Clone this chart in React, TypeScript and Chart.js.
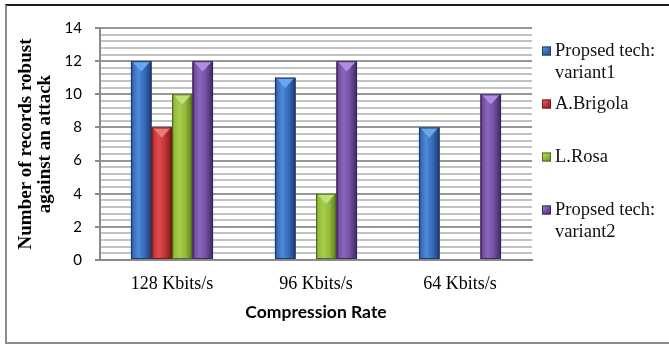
import React, { useEffect, useRef } from 'react';
import { Chart, registerables } from 'chart.js';

Chart.register(...registerables);

// Compression rates on the category axis
const categories = ['128 Kbits/s', '96 Kbits/s', '64 Kbits/s'];

// Number of records robust against an attack, per technique
const variant1 = [12, 11, 8];
const brigola = [8, null, null];
const rosa = [10, 4, null];
const variant2 = [12, 12, 10];

// Legend entries (multi-line where the label wraps)
const seriesNames = [
  ['Propsed tech:', 'variant1'],
  ['A.Brigola'],
  ['L.Rosa'],
  ['Propsed tech:', 'variant2'],
];

// Value axis: labelled every 2, fine grid every 0.4
const yMax = 14;
const yMajorStep = 2;
const yMinorStep = 0.4;

const yTitle = ['Number of records robust', 'against an attack'];
const xTitle = 'Compression Rate';

type Pal = { base: string; light: string; hi: string; dark: string; edge: string };
const palettes: Pal[] = [
  { base: '#3A6CBB', light: '#6AA6EC', hi: '#4E8CD6', dark: '#24498A', edge: '#1C3766' },
  { base: '#C43536', light: '#F07878', hi: '#DC4C4C', dark: '#8C2122', edge: '#6A1718' },
  { base: '#93BC3A', light: '#C2E07A', hi: '#A8CC4E', dark: '#678A22', edge: '#4E6A18' },
  { base: '#7450A3', light: '#AE8EDD', hi: '#8A66BC', dark: '#4E3276', edge: '#3A2459' },
];

const isMajor = (v: number) => Math.abs(v / yMajorStep - Math.round(v / yMajorStep)) < 1e-6;

// Fine horizontal grid between the labelled gridlines
const minorGridPlugin = {
  id: 'minorGrid',
  beforeDatasetsDraw(chart: any) {
    const ctx: CanvasRenderingContext2D = chart.ctx;
    const area = chart.chartArea;
    const yScale = chart.scales.y;
    const n = Math.round(yMax / yMinorStep);
    ctx.save();
    ctx.strokeStyle = '#c2c2c2';
    ctx.lineWidth = 2;
    for (let k = 1; k < n; k++) {
      const v = k * yMinorStep;
      if (isMajor(v)) continue;
      const py = Math.round(yScale.getPixelForValue(v));
      ctx.beginPath();
      ctx.moveTo(area.left + 1, py);
      ctx.lineTo(area.right, py);
      ctx.stroke();
    }
    ctx.restore();
  },
};

// Bevelled look: horizontal shading, light pyramid cap, dark outline
const bevelPlugin = {
  id: 'bevel',
  afterDatasetsDraw(chart: any) {
    const ctx: CanvasRenderingContext2D = chart.ctx;
    chart.data.datasets.forEach((ds: any, di: number) => {
      const meta = chart.getDatasetMeta(di);
      const pal = palettes[di];
      meta.data.forEach((el: any, i: number) => {
        if (ds.data[i] == null) return;
        const { x, y, base, width } = el.getProps(['x', 'y', 'base', 'width'], true);
        const l = x - width / 2;
        const r = x + width / 2;
        const h = base - y;
        if (h <= 0) return;
        ctx.save();
        const g = ctx.createLinearGradient(l, 0, r, 0);
        g.addColorStop(0, pal.dark);
        g.addColorStop(0.12, pal.base);
        g.addColorStop(0.35, pal.hi);
        g.addColorStop(0.65, pal.base);
        g.addColorStop(0.9, pal.dark);
        g.addColorStop(1, pal.edge);
        ctx.fillStyle = g;
        ctx.fillRect(l, y, width, h);
        const capDepth = Math.min(width / 2, h);
        ctx.beginPath();
        ctx.moveTo(l + 1, y);
        ctx.lineTo(r - 1, y);
        ctx.lineTo(x, y + capDepth);
        ctx.closePath();
        ctx.fillStyle = pal.light;
        ctx.fill();
        ctx.strokeStyle = pal.edge;
        ctx.lineWidth = 1;
        ctx.strokeRect(l + 0.5, y + 0.5, width - 1, h - 1);
        ctx.restore();
      });
    });
  },
};

// Legend in the right margin, entries spread evenly
const sideLegendPlugin = {
  id: 'sideLegend',
  afterDraw(chart: any) {
    const ctx: CanvasRenderingContext2D = chart.ctx;
    const area = chart.chartArea;
    const markX = area.right + 10;
    const textX = area.right + 23;
    const step = 53;
    const lineH = 22;
    ctx.save();
    ctx.font = '18.5px "Liberation Serif", "Times New Roman", serif';
    ctx.textBaseline = 'middle';
    ctx.textAlign = 'left';
    chart.data.datasets.forEach((ds: any, di: number) => {
      const pal = palettes[di];
      const cy = area.top + 23 + di * step;
      const s = 9;
      const top = cy - s / 2;
      const g = ctx.createLinearGradient(markX, top, markX + s, top + s);
      g.addColorStop(0, pal.light);
      g.addColorStop(0.5, pal.base);
      g.addColorStop(1, pal.dark);
      ctx.fillStyle = g;
      ctx.fillRect(markX, top, s, s);
      ctx.strokeStyle = pal.edge;
      ctx.lineWidth = 1;
      ctx.strokeRect(markX + 0.5, top + 0.5, s - 1, s - 1);
      ctx.fillStyle = '#111';
      const lines: string[] = Array.isArray(ds.label) ? ds.label : [ds.label];
      lines.forEach((t, k) => ctx.fillText(t, textX, cy + k * lineH));
    });
    ctx.restore();
  },
};

export default function App() {
  const canvasRef = useRef<HTMLCanvasElement | null>(null);

  useEffect(() => {
    if (!canvasRef.current) return;
    const series = [variant1, brigola, rosa, variant2];
    const chart = new Chart(canvasRef.current, {
      type: 'bar',
      data: {
        labels: categories,
        datasets: series.map((d, i) => ({
          label: seriesNames[i] as any,
          data: d as any,
          backgroundColor: palettes[i].base,
          borderWidth: 0,
          categoryPercentage: 0.57,
          barPercentage: 1,
        })),
      },
      options: {
        responsive: false,
        animation: false,
        layout: { padding: { top: 28, right: 137, bottom: 0, left: 0 } },
        plugins: {
          legend: { display: false },
          tooltip: { enabled: false },
        },
        scales: {
          x: {
            grid: { display: false, drawTicks: false, tickLength: 0 },
            border: { display: true, color: '#8a8a8a', width: 2 },
            ticks: {
              padding: 13,
              color: '#000',
              font: { family: '"Liberation Serif", "Times New Roman", serif', size: 18 },
            },
            title: {
              display: true,
              text: xTitle,
              color: '#000',
              font: { family: 'Lato, "Open Sans", sans-serif', size: 17.5, weight: 'bold' },
              padding: { top: 0, bottom: 21 },
            },
            afterFit(scale: any) {
              scale.height = 84;
            },
          },
          y: {
            min: 0,
            max: yMax,
            border: { display: true, color: '#8a8a8a', width: 2 },
            grid: {
              color: '#979797',
              tickColor: '#8c8c8c',
              tickLength: 5,
              lineWidth: 2,
            },
            ticks: {
              stepSize: yMajorStep,
              padding: 13,
              color: '#000',
              font: { family: 'Lato, "Open Sans", sans-serif', size: 15 },
            },
            title: {
              display: true,
              text: yTitle,
              color: '#000',
              font: { family: '"Liberation Serif", "Times New Roman", serif', size: 19, weight: 'bold', lineHeight: '19px' },
              padding: { top: 17, bottom: 0 },
            },
            afterFit(scale: any) {
              scale.width = 100;
            },
          },
        },
      },
      plugins: [minorGridPlugin, bevelPlugin, sideLegendPlugin],
    });
    return () => chart.destroy();
  }, []);

  return (
    <div style={{ position: 'absolute', left: 0, top: 0, width: 669, height: 344, overflow: 'hidden', background: '#fff' }}>
      <div
        style={{
          position: 'absolute',
          left: 5,
          top: 4,
          width: 700,
          height: 340,
          boxSizing: 'border-box',
          borderLeft: '2px solid #8c8c8c',
          borderBottom: '2px solid #8c8c8c',
          borderTop: '2px solid #1c1c1c',
        }}
      />
      <canvas ref={canvasRef} width={669} height={344} style={{ position: 'absolute', left: 0, top: 0, display: 'block' }} />
    </div>
  );
}
